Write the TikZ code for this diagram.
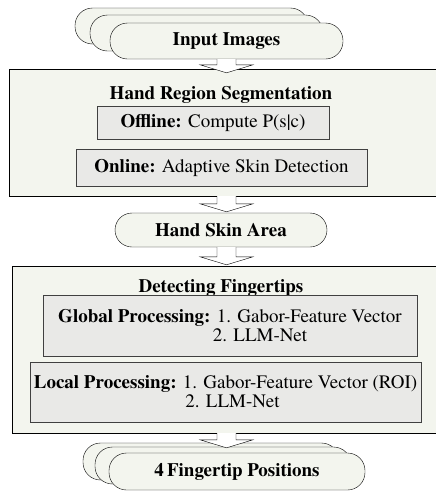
\documentclass[tikz,border=0pt]{standalone}
\usepackage{fontspec}
\setmainfont{texgyretermes}[Extension=.otf, UprightFont=*-regular, BoldFont=*-bold,
  ItalicFont=*-italic, BoldItalicFont=*-bolditalic]
\usetikzlibrary{calc}
\definecolor{boxFill}{HTML}{F3F5EE}
\definecolor{subFill}{HTML}{E9E9E7}
% hollow down arrow: source node, target node, tip shift
\newcommand{\blockArrow}[3]{%
  \draw[fill=white] (axis |- #1.south) ++(-9.5,0)
    -- ($(axis |- #2.north)+(-9.5,#3-8)$) -- ++(-17,0)
    -- ($(axis |- #2.north)+(0,#3)$)
    -- ($(axis |- #2.north)+(26.5,#3-8)$) -- ++(-17,0)
    -- ($(axis |- #1.south)+(9.5,0)$);}

\begin{document}
\begin{tikzpicture}[x=1pt,y=-1pt,
  term/.style={draw, fill=boxFill, rounded corners=17.5pt, minimum height=36pt,
    minimum width=233pt, inner sep=0pt, font=\bfseries\fontsize{19}{19}\selectfont},
  stage/.style={draw, fill=boxFill, inner sep=0pt},
  sub/.style={draw=black!75, fill=subFill, inner sep=0pt, align=center,
    font=\fontsize{19}{19}\selectfont},
  title/.style={font=\bfseries\fontsize{19}{19}\selectfont}]
  \useasboundingbox (0,0) rectangle (436,493);
  \coordinate (axis) at (226.5,0);

  \node[term] (in1) at (191.5,26) {};
  \node[term] (in2) at (206.5,33) {};
  \node[term] (input) at (226.5,41) {Input Images};

  \node[stage, minimum width=434pt, minimum height=127pt] (seg) at (226,132.5) {};
  \node[title] (segTitle) at (221,95) {Hand Region Segmentation};
  \node[sub, minimum width=232pt, minimum height=33pt] (offline) at (213,122.5)
    {\textbf{Offline:} Compute P(s|c)};
  \node[sub, minimum width=291pt, minimum height=37pt] (online) at (221.5,167.5)
    {\textbf{Online:} Adaptive Skin Detection};

  \node[term, minimum width=212pt, minimum height=34pt, rounded corners=17pt] (skin) at (221,230) {Hand Skin Area};

  \node[stage, minimum width=430pt, minimum height=167pt] (detect) at (227,349.5) {};
  \node[title] (detectTitle) at (221,288) {Detecting Fingertips};
  \node[sub, minimum width=374pt, minimum height=61pt] (global) at (230,325.5)
    {\textbf{Global Processing:} 1. Gabor-Feature Vector\\\hspace*{60pt}2. LLM-Net};
  \node[sub, minimum width=391pt, minimum height=60pt] (local) at (225.5,392)
    {\textbf{Local Processing:} 1. Gabor-Feature Vector (ROI)\\\hspace*{14pt}2. LLM-Net};

  \node[term, minimum width=256pt, minimum height=37pt] (out1) at (211,461.5) {};
  \node[term, minimum width=256pt, minimum height=37pt] (out2) at (223,465.5) {};
  \node[term, minimum width=256pt, minimum height=37pt] (output) at (237,471.5) {4\,Fingertip Positions};

  \blockArrow{input}{seg}{4}
  \blockArrow{seg}{skin}{-1}
  \blockArrow{skin}{detect}{-1}
  \blockArrow{detect}{output}{-5}
\end{tikzpicture}
\end{document}
